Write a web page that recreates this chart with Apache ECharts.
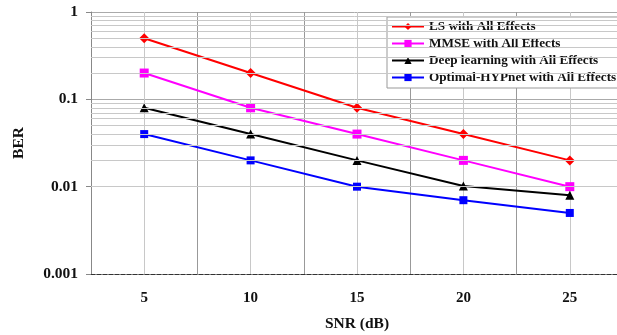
<!DOCTYPE html>
<html><head><meta charset="utf-8">
<script src="https://cdn.jsdelivr.net/npm/echarts@6/dist/echarts.min.js"></script>
<style>html,body{margin:0;padding:0;background:#fff}#c{width:617px;height:335px}</style>
</head><body><div id="c"></div>
<script>
const snr = [5, 10, 15, 20, 25];
const ls = [0.5, 0.2, 0.08, 0.04, 0.02];
const mmse = [0.2, 0.08, 0.04, 0.02, 0.01];
const deep = [0.08, 0.04, 0.02, 0.0102, 0.008];
const hyp = [0.04, 0.02, 0.01, 0.007, 0.005];
const yTicks = ['1', '0.1', '0.01', '0.001'];
const minorGrid = [];
[0.001, 0.01, 0.1].forEach(d => { for (let k = 2; k <= 9; k++) minorGrid.push(+(d * k).toPrecision(3)); });

const font = '"Liberation Serif","Times New Roman",serif';
const pair = arr => snr.map((x, i) => [x, arr[i]]);
const chart = echarts.init(document.getElementById('c'));
chart.setOption({
  animation: false,
  backgroundColor: '#fff',
  grid: { left: 91, top: 12, height: 262, width: 532, containLabel: false, outerBoundsMode: 'none' },
  legend: {
    orient: 'vertical', left: 387, top: 17, itemGap: 4, itemWidth: 32, itemHeight: 9,
    backgroundColor: '#fff', borderColor: '#999', borderWidth: 1, borderRadius: 0,
    padding: [3, 40, 4, 4],
    textStyle: { fontFamily: font, fontWeight: 'bold', fontSize: 13.2, color: '#111' },
    data: ['LS with All Effects', 'MMSE with All Effects', 'Deep learning with All Effects', 'Optimal-HYPnet with All Effects']
  },
  xAxis: {
    type: 'value', min: 2.5, max: 27.5, interval: 2.5,
    name: 'SNR (dB)', nameLocation: 'middle', nameGap: 42,
    nameTextStyle: { fontFamily: font, fontWeight: 'bold', fontSize: 15.5, color: '#111' },
    axisLine: { show: true, onZero: false, lineStyle: { color: '#333', type: 'dashed', width: 1 } },
    axisTick: { show: false },
    axisLabel: { margin: 17, fontFamily: font, fontWeight: 'bold', fontSize: 15, color: '#111',
      formatter: v => (Math.abs(v % 5) < 1e-9 ? String(v) : '') },
    splitLine: { show: true, lineStyle: { color: ['#999', '#c8c8c8'], width: 1 } }
  },
  yAxis: {
    type: 'log', logBase: 10, min: 0.001, max: 1,
    name: 'BER', nameLocation: 'middle', nameGap: 64, nameRotate: 90,
    nameTextStyle: { fontFamily: font, fontWeight: 'bold', fontSize: 15.5, color: '#111' },
    axisLine: { show: true, lineStyle: { color: '#888' } },
    axisTick: { show: true, length: 5, lineStyle: { color: '#888' } },
    axisLabel: { margin: 13, fontFamily: font, fontWeight: 'bold', fontSize: 15.5, color: '#111',
      formatter: v => { const idx = Math.round(-Math.log10(v)); return yTicks[idx] !== undefined ? yTicks[idx] : ''; } },
    splitLine: { show: true, lineStyle: { color: '#aaa', width: 1 } }
  },
  series: [
    { type: 'line', name: '__grid', data: [], silent: true, legendHoverLink: false,
      markLine: { silent: true, symbol: 'none', label: { show: false }, animation: false,
        lineStyle: { color: '#c8c8c8', type: 'solid', width: 1 },
        data: minorGrid.map(v => ({ yAxis: v })) } },
    { type: 'line', name: 'LS with All Effects', data: pair(ls), symbol: 'diamond', symbolSize: 10,
      lineStyle: { color: '#ff0000', width: 2 }, itemStyle: { color: '#ff0000' } },
    { type: 'line', name: 'MMSE with All Effects', data: pair(mmse), symbol: 'rect', symbolSize: 9,
      lineStyle: { color: '#ff00ff', width: 2 }, itemStyle: { color: '#ff00ff' } },
    { type: 'line', name: 'Deep learning with All Effects', data: pair(deep), symbol: 'triangle', symbolSize: 9,
      lineStyle: { color: '#000000', width: 2 }, itemStyle: { color: '#000000' } },
    { type: 'line', name: 'Optimal-HYPnet with All Effects', data: pair(hyp), symbol: 'rect', symbolSize: 8,
      lineStyle: { color: '#0000ff', width: 2 }, itemStyle: { color: '#0000ff' } }
  ]
});
</script></body></html>
